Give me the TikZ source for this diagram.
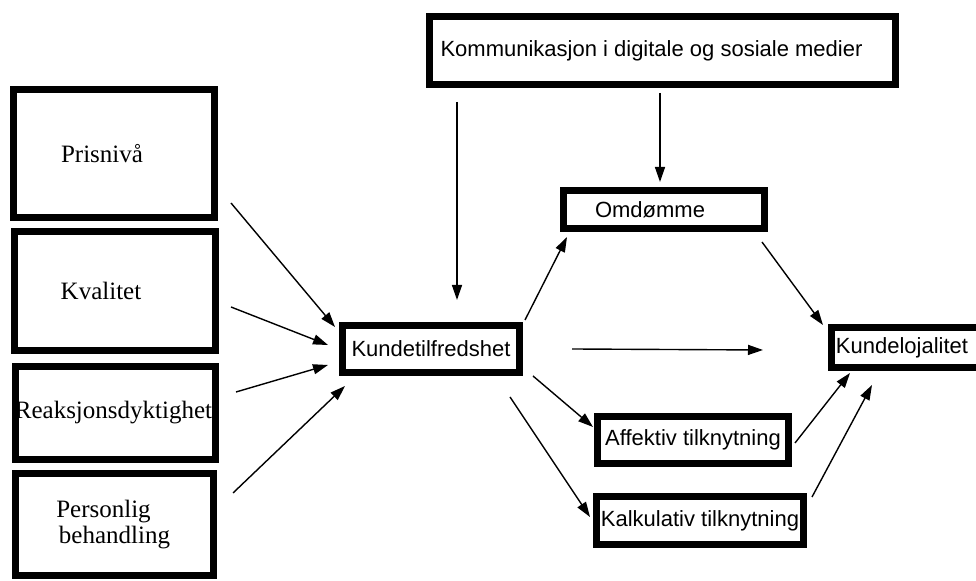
\documentclass[tikz,border=0pt]{standalone}
\usepackage{fontspec}
\setmainfont{Liberation Serif}
\setsansfont{Liberation Sans}
\usetikzlibrary{arrows.meta}
\begin{document}
\begin{tikzpicture}[x=0.5pt,y=-0.5pt,
  box/.style={draw=black, line width=3.5pt, rectangle, inner sep=0pt, fill=white},
  lbox/.style={box, font=\fontsize{12.5}{14}\selectfont\rmfamily},
  rbox/.style={box, font=\fontsize{11}{13}\selectfont\sffamily},
  arr/.style={draw=black, line width=0.7pt, -{Triangle[length=7.5pt,width=5pt]}}]
\useasboundingbox (0,0) rectangle (976,581);
% left boxes
\node[lbox, minimum width=100.5pt, minimum height=64pt] (pris) at (114,153.5) {\hspace*{-12pt}\raisebox{-2pt}{Prisnivå}};
\node[lbox, minimum width=100.5pt, minimum height=59.5pt] (kval) at (115,291) {\hspace*{-14pt}\raisebox{-2pt}{Kvalitet}};
\node[lbox, minimum width=100pt, minimum height=46.5pt] (reak) at (115.5,413) {\hspace*{-2pt}Reaksjonsdyktighet};
\node[lbox, minimum width=99pt, minimum height=51pt] (pers) at (114.5,524.5) {\raisebox{2pt}{\begin{tabular}{@{}c@{}}\hspace*{-11pt}Personlig\\[-1pt]behandling\end{tabular}}};
% right boxes
\node[rbox, minimum width=233pt, minimum height=34pt] (komm) at (662.5,50.5) {\hspace*{-11pt}Kommunikasjon i digitale og sosiale medier};
\node[rbox, minimum width=100.5pt, minimum height=19pt] (omd) at (664,209.5) {\hspace*{-14pt}Omdømme};
\node[rbox, minimum width=88.5pt, minimum height=23.5pt] (ktf) at (431,349) {Kundetilfredshet};
\node[rbox, minimum width=82.5pt, minimum height=20pt] (klo) at (914,347.5) {\hspace*{-12pt}Kundelojalitet};
\node[rbox, minimum width=95.5pt, minimum height=23.5pt] (aff) at (693,440) {Affektiv tilknytning};
\node[rbox, minimum width=103.5pt, minimum height=24pt] (kal) at (700,520.5) {Kalkulativ tilknytning};
% connector end points
\coordinate (p1) at (231,203);  \coordinate (t1) at (335,327);
\coordinate (p2) at (231,307);  \coordinate (t2) at (328,345);
\coordinate (p3) at (236,392);  \coordinate (t3) at (328,365);
\coordinate (p4) at (233,493);  \coordinate (t4) at (345,386);
\coordinate (k1) at (457,102);  \coordinate (kt) at (457,300);
\coordinate (k2) at (660,93);   \coordinate (ot) at (660,182);
\coordinate (s1) at (525,320);  \coordinate (o1) at (567,237);
\coordinate (o2) at (762,242);  \coordinate (l1) at (823,325);
\coordinate (h1) at (572,349);  \coordinate (h2) at (763,350);
\coordinate (s2) at (533,376);  \coordinate (a1) at (593,427);
\coordinate (s3) at (510,397);  \coordinate (c1) at (590,517);
\coordinate (a2) at (795,443);  \coordinate (l2) at (850,373);
\coordinate (c2) at (812,497);  \coordinate (l3) at (872,385);
% connectors
\draw[arr] (p1) -- (t1);
\draw[arr] (p2) -- (t2);
\draw[arr] (p3) -- (t3);
\draw[arr] (p4) -- (t4);
\draw[arr] (k1) -- (kt);
\draw[arr] (k2) -- (ot);
\draw[arr] (s1) -- (o1);
\draw[arr] (o2) -- (l1);
\draw[arr] (h1) -- (h2);
\draw[arr] (s2) -- (a1);
\draw[arr] (s3) -- (c1);
\draw[arr] (a2) -- (l2);
\draw[arr] (c2) -- (l3);
\end{tikzpicture}
\end{document}
